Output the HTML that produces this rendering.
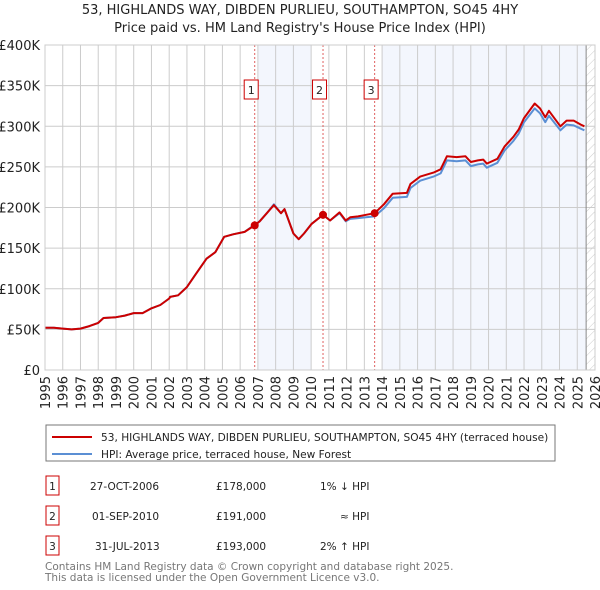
<!DOCTYPE html>
<html><head><meta charset="utf-8"><style>
body{margin:0;background:#fff;font-family:"DejaVu Sans","Liberation Sans",sans-serif;}
svg{display:block;font-family:"DejaVu Sans","Liberation Sans",sans-serif;}
</style></head><body>
<svg id="c" width="600" height="590" xmlns="http://www.w3.org/2000/svg">
<defs><pattern id="hatch" width="6" height="6" patternUnits="userSpaceOnUse" patternTransform="rotate(45)"><line x1="0" y1="0" x2="0" y2="6" stroke="#ccc" stroke-width="1"/></pattern></defs>
<text x="300" y="14" text-anchor="middle" font-size="13" fill="#222">53, HIGHLANDS WAY, DIBDEN PURLIEU, SOUTHAMPTON, SO45 4HY</text>
<text x="300" y="32" text-anchor="middle" font-size="13" fill="#222">Price paid vs. HM Land Registry's House Price Index (HPI)</text>
<g id="plot"></g>
<rect x="46" y="425" width="509" height="36" fill="#fff" stroke="#777"/>
<line x1="52" y1="437" x2="92" y2="437" stroke="#c00" stroke-width="2"/>
<text x="101" y="441" font-size="10.6" fill="#222">53, HIGHLANDS WAY, DIBDEN PURLIEU, SOUTHAMPTON, SO45 4HY (terraced house)</text>
<line x1="52" y1="454" x2="92" y2="454" stroke="#5b8fd4" stroke-width="2"/>
<text x="101" y="458" font-size="10.6" fill="#222">HPI: Average price, terraced house, New Forest</text>
<g font-size="10.5" fill="#222">
<rect x="46" y="476" width="13" height="19" fill="#fff" stroke="#c00"/><text x="52.5" y="490" text-anchor="middle">1</text>
<text x="90" y="490">27-OCT-2006</text><text x="216" y="490">£178,000</text><text x="320" y="490">1% ↓ HPI</text>
<rect x="46" y="506" width="13" height="19" fill="#fff" stroke="#c00"/><text x="52.5" y="520" text-anchor="middle">2</text>
<text x="92" y="520">01-SEP-2010</text><text x="216" y="520">£191,000</text><text x="340" y="520">≈ HPI</text>
<rect x="46" y="536" width="13" height="19" fill="#fff" stroke="#c00"/><text x="52.5" y="550" text-anchor="middle">3</text>
<text x="95" y="550">31-JUL-2013</text><text x="216" y="550">£193,000</text><text x="320" y="550">2% ↑ HPI</text>
</g>
<text x="45" y="570" font-size="10.5" fill="#777">Contains HM Land Registry data © Crown copyright and database right 2025.</text>
<text x="45" y="581" font-size="10.5" fill="#777">This data is licensed under the Open Government Licence v3.0.</text>
</svg>
<script>
const years=[1995,1995.5,1996,1996.5,1997,1997.5,1998,1998.3,1999,1999.5,2000,2000.5,2001,2001.5,2002,2002.05,2002.5,2003,2003.5,2004.1,2004.6,2005.1,2005.6,2006.25,2006.82,2007.1,2007.5,2007.9,2008.3,2008.5,2009,2009.3,2009.6,2010.03,2010.67,2011.07,2011.6,2011.95,2012.2,2012.65,2013.1,2013.58,2014.1,2014.6,2015.4,2015.6,2016.15,2016.9,2017.3,2017.65,2018.2,2018.7,2019,2019.4,2019.7,2019.9,2020.5,2020.9,2021.4,2021.7,2022,2022.6,2022.9,2023.2,2023.4,2024.05,2024.4,2024.8,2025.2,2025.4];
const propVals=[52,52,51,50,51,54,58,64,65,67,70,70,76,80,88,90,92,102,118,137,145,164,167,170,178,183,193,203,193,198,168,161,168,180,191,184,194,184,188,189,191,193,204,217,218,229,238,243,247,263,262,263,256,258,259,254,260,275,287,296,310,328,322,311,319,300,307,307,302,300];
const hpiVals=[52,52,51,50,51,54,58,64,65,67,70,70,76,80,88,90,92,102,118,137,145,164,167,170,179,183,193,204,193,198,168,161,168,180,191,184,193,183,186,187,188,189,199,212,213,224,233,238,242,258,257,258,251,253,254,249,255,270,282,291,305,322,316,305,313,295,302,301,297,295];
const yTicks=[0,50,100,150,200,250,300,350,400];
const yTickLabels=["£0","£50K","£100K","£150K","£200K","£250K","£300K","£350K","£400K"];
const xTicks=[1995,1996,1997,1998,1999,2000,2001,2002,2003,2004,2005,2006,2007,2008,2009,2010,2011,2012,2013,2014,2015,2016,2017,2018,2019,2020,2021,2022,2023,2024,2025,2026];
const saleDates=[2006.82,2010.67,2013.58];
const salePrices=[178,191,193];
const saleLabels=["1","2","3"];
const X0=45,X1=595,Y0=370,Y1=45;
const xs=y=>X0+(y-1995)/(2026-1995)*(X1-X0);
const ys=v=>Y0-v/400*(Y0-Y1);
const NS="http://www.w3.org/2000/svg";
const g=document.getElementById('plot');
function mk(t,a,p){const e=document.createElementNS(NS,t);for(const k in a)e.setAttribute(k,a[k]);(p||g).appendChild(e);return e;}
let r;
r=mk('rect',{x:xs(2007),y:Y1,width:xs(2010)-xs(2007),height:Y0-Y1,fill:'#f3f6fd'});


r=mk('rect',{x:xs(2014),y:Y1,width:xs(2025.5)-xs(2014),height:Y0-Y1,fill:'#f3f6fd'});


r=mk('rect',{x:xs(2025.5),y:Y1,width:X1-xs(2025.5),height:Y0-Y1,fill:'url(#hatch)'});


yTicks.forEach((v,i)=>{
 mk('line',{x1:X0,x2:X1,y1:ys(v),y2:ys(v),stroke:'#ccc'});
 const t=mk('text',{x:40,y:ys(v)+5,'text-anchor':'end','font-size':13,fill:'#222'});
 t.textContent=yTickLabels[i];
 
 
});
xTicks.forEach(y=>{
 mk('line',{x1:xs(y),x2:xs(y),y1:Y1,y2:Y0,stroke:'#ccc'});
 const t=mk('text',{x:0,y:0,'font-size':13,fill:'#222','text-anchor':'end',transform:`translate(${xs(y)+5},${Y0+6}) rotate(-90)`});
 t.textContent=y;
 
 
});
mk('line',{x1:xs(2025.5),x2:xs(2025.5),y1:Y1,y2:Y0,stroke:'#888'});
saleDates.forEach((d,i)=>{
 const l=mk('line',{x1:xs(d),x2:xs(d),y1:Y1,y2:Y0,stroke:'#e06060','stroke-dasharray':'2,2'});
 
 
 const bx=xs(d)-3.5;
 const b=mk('rect',{x:bx-7,y:80,width:14,height:19,fill:'#fff',stroke:'#c00'});
 
 
 const t=mk('text',{x:bx,y:94,'text-anchor':'middle','font-size':11,fill:'#222'});
 t.textContent=saleLabels[i];
});
function path(vals,col,name){
 const d=vals.map((v,i)=>(i?'L':'M')+xs(years[i]).toFixed(1)+','+ys(v).toFixed(1)).join('');
 const p=mk('path',{d:d,fill:'none',stroke:col,'stroke-width':2,'stroke-linejoin':'round'});
 
 
}
path(hpiVals,'#5b8fd4','hpi-line');
path(propVals,'#c00','property-line');
saleDates.forEach((d,i)=>{
 const c=mk('circle',{cx:xs(d),cy:ys(salePrices[i]),r:4,fill:'#c00'});
 
 
});
mk('rect',{x:X0,y:Y1,width:X1-X0,height:Y0-Y1,fill:'none',stroke:'#ccc'});
</script>
</body></html>
